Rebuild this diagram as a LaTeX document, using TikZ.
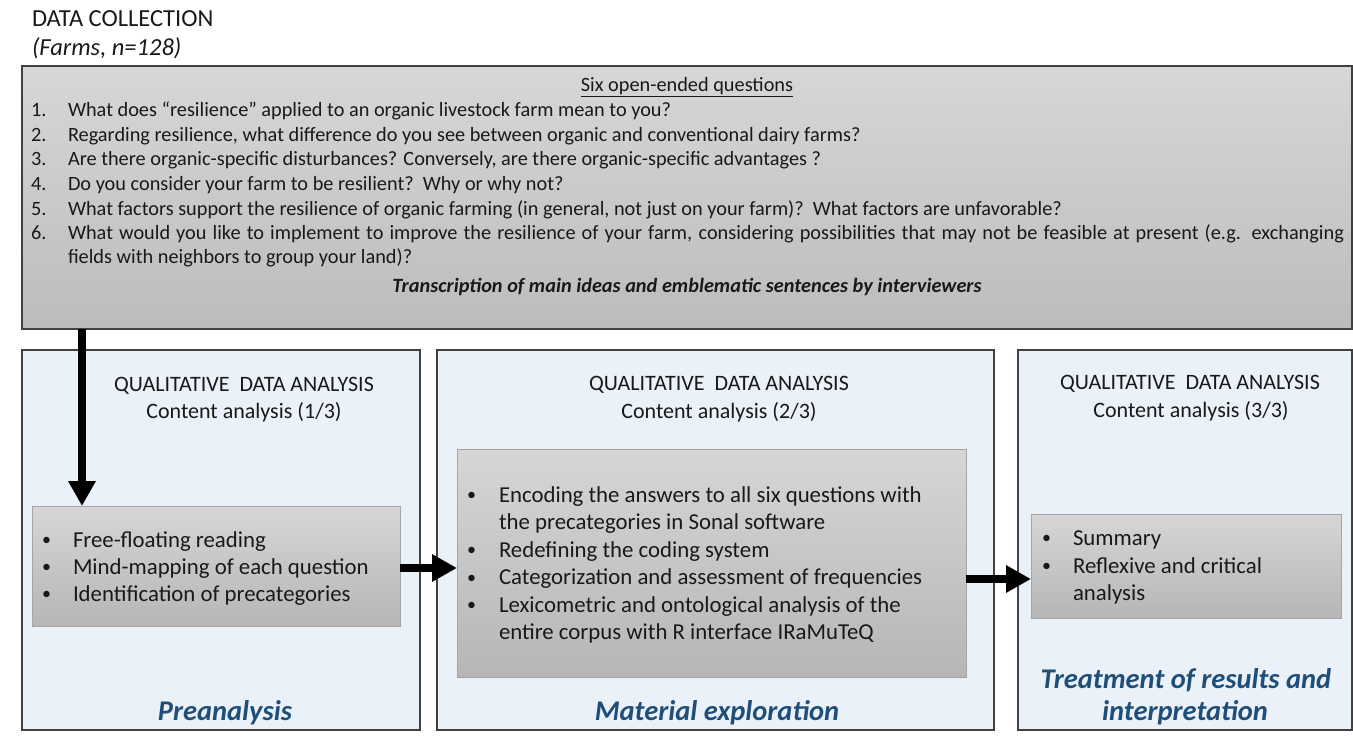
\documentclass[tikz,border=0pt]{standalone}
\usepackage{fontspec}
\setmainfont{Carlito}
\usetikzlibrary{arrows.meta}
\definecolor{outerfill}{RGB}{235,241,248}
\definecolor{outerline}{RGB}{64,64,64}
\definecolor{topA}{RGB}{215,215,215}
\definecolor{topB}{RGB}{188,188,188}
\definecolor{inA}{RGB}{214,214,214}
\definecolor{inB}{RGB}{182,182,182}
\definecolor{inline}{RGB}{165,165,165}
\definecolor{titleblue}{RGB}{31,78,121}
\definecolor{txt}{RGB}{25,25,25}
\begin{document}
\begin{tikzpicture}[x=1pt,y=-1pt,
  every node/.style={inner sep=0pt,outer sep=0pt,text=txt},
  panel/.style={draw=outerline,line width=1.1pt,fill=outerfill,anchor=north west},
  topbox/.style={draw=outerline,line width=1.1pt,top color=topA,bottom color=topB,anchor=north west},
  innerbox/.style={draw=inline,line width=0.8pt,top color=inA,bottom color=inB,anchor=north west},
  qline/.style={anchor=base west,font=\fontsize{20.3}{24.3}\selectfont},
  hdr/.style={anchor=base,font=\fontsize{22}{27}\selectfont},
  bl/.style={anchor=base west,font=\fontsize{22.8}{27.5}\selectfont},
  bdot/.style={anchor=base west,font=\fontsize{18}{20}\selectfont,yshift=1.5pt},
  phase/.style={anchor=base,font=\fontsize{28.5}{33}\selectfont\bfseries\itshape,text=titleblue},
  bigarrow/.style={line width=8pt,-{Triangle[width=26pt,length=25pt]}}]
\useasboundingbox (0,0) rectangle (1353,741);

% heading
\node[anchor=base west,font=\fontsize{24.5}{29}\selectfont] (dc) at (32,27) {DATA COLLECTION};
\node[anchor=base west,font=\fontsize{24.5}{29}\selectfont\itshape] (farms) at (32,56) {(Farms, n=128)};

% top box
\node[topbox,minimum width=1330pt,minimum height=263pt] (top) at (22,66) {};
\node[anchor=base,font=\fontsize{20.3}{24.3}\selectfont] (six) at (687,92) {\underline{Six open-ended questions}};
\node[qline] (n1) at (31,117) {1.};
\node[qline] (q1) at (68,117) {What does “resilience” applied to an organic livestock farm mean to you?};
\node[qline] (n2) at (31,141.5) {2.};
\node[qline] (q2) at (68,141.5) {Regarding resilience, what difference do you see between organic and conventional dairy farms?};
\node[qline] (n3) at (31,166) {3.};
\node[qline] (q3) at (68,166) {Are there organic-specific disturbances? Conversely, are there organic-specific advantages ?};
\node[qline] (n4) at (31,190.5) {4.};
\node[qline] (q4) at (68,190.5) {Do you consider your farm to be resilient?\ \ Why or why not?};
\node[qline] (n5) at (31,215) {5.};
\node[qline] (q5) at (68,215) {What factors support the resilience of organic farming (in general, not just on your farm)?\ \ What factors are unfavorable?};
\node[qline] (n6) at (31,239) {6.};
\node[qline] (q6) at (68,239) {\makebox[1276pt][s]{What would you like to implement to improve the resilience of your farm, considering possibilities that may not be feasible at present (e.g. exchanging}};
\node[qline] (q6b) at (68,263.5) {fields with neighbors to group your land)?};
\node[anchor=base,font=\fontsize{20.3}{24.3}\selectfont\bfseries\itshape] (trans) at (687,292) {Transcription of main ideas and emblematic sentences by interviewers};

% panels
\node[panel,minimum width=398pt,minimum height=380pt] (p1) at (22,350) {};
\node[panel,minimum width=557pt,minimum height=380pt] (p2) at (437,350) {};
\node[panel,minimum width=334pt,minimum height=380pt] (p3) at (1018,350) {};

% panel headers
\node[hdr] (h1a) at (244,391) {QUALITATIVE\ \ DATA ANALYSIS};
\node[hdr] (h1b) at (244,418) {Content analysis (1/3)};
\node[hdr] (h2a) at (719,390) {QUALITATIVE\ \ DATA ANALYSIS};
\node[hdr] (h2b) at (719,418) {Content analysis (2/3)};
\node[hdr] (h3a) at (1190,389) {QUALITATIVE\ \ DATA ANALYSIS};
\node[hdr] (h3b) at (1191,417) {Content analysis (3/3)};

% inner boxes
\node[innerbox,minimum width=368pt,minimum height=120pt] (in1) at (32,506) {};
\node[innerbox,minimum width=509pt,minimum height=228pt] (in2) at (457,449) {};
\node[innerbox,minimum width=310pt,minimum height=104pt] (in3) at (1031,514) {};

% inner 1 bullets
\node[bdot] (b1a) at (42,547) {\textbullet};
\node[bl] (t1a) at (73,547) {Free-floating reading};
\node[bdot] (b1b) at (42,574) {\textbullet};
\node[bl] (t1b) at (73,574) {Mind-mapping of each question};
\node[bdot] (b1c) at (42,601) {\textbullet};
\node[bl] (t1c) at (73,601) {Identification of precategories};

% inner 2 bullets
\node[bdot] (b2a) at (467,502) {\textbullet};
\node[bl] (t2a) at (499,502) {Encoding the answers to all six questions with};
\node[bl] (t2b) at (499,529.5) {the precategories in Sonal software};
\node[bdot] (b2c) at (467,557) {\textbullet};
\node[bl] (t2c) at (499,557) {Redefining the coding system};
\node[bdot] (b2d) at (467,584.5) {\textbullet};
\node[bl] (t2d) at (499,584.5) {Categorization and assessment of frequencies};
\node[bdot] (b2e) at (467,612) {\textbullet};
\node[bl] (t2e) at (499,612) {Lexicometric and ontological analysis of the};
\node[bl] (t2f) at (499,639.5) {entire corpus with R interface IRaMuTeQ};

% inner 3 bullets
\node[bdot] (b3a) at (1042,545) {\textbullet};
\node[bl] (t3a) at (1073,545) {Summary};
\node[bdot] (b3b) at (1042,573) {\textbullet};
\node[bl] (t3b) at (1073,573) {Reflexive and critical};
\node[bl] (t3c) at (1073,600) {analysis};

% phase titles
\node[phase] (ph1) at (225,720) {Preanalysis};
\node[phase] (ph2) at (717,720) {Material exploration};
\node[phase] (ph3a) at (1186,688) {Treatment of results and};
\node[phase] (ph3b) at (1185,720) {interpretation};

% arrows
\coordinate (ax) at (82,0);
\coordinate (ay1) at (0,568);
\coordinate (ay2) at (0,579);
\draw[bigarrow] (top.south -| ax) -- (in1.north -| ax);
\draw[bigarrow] (in1.east |- ay1) -- (in2.west |- ay1);
\draw[bigarrow] (in2.east |- ay2) -- (in3.west |- ay2);
\end{tikzpicture}
\end{document}
